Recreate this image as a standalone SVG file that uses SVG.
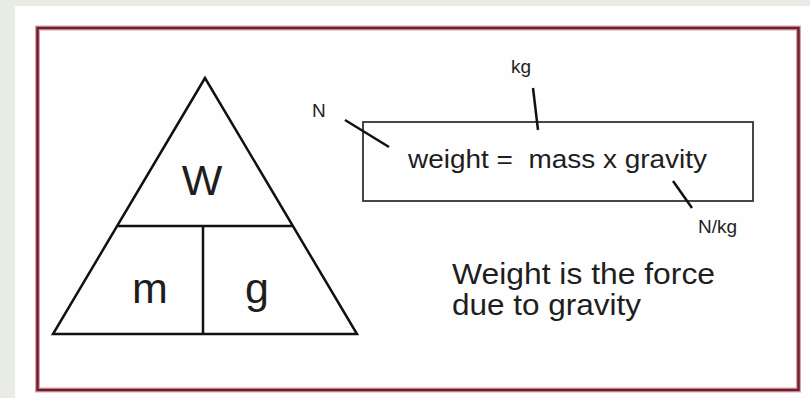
<svg xmlns="http://www.w3.org/2000/svg" width="810" height="398" viewBox="0 0 810 398">
<style>
.t{font-family:"Liberation Sans",Arial,sans-serif;fill:#1e1e1e}
.ln{stroke:#111;fill:none;stroke-linecap:butt}
</style>
<rect x="0" y="0" width="810" height="398" fill="#e8ece5"/>
<rect x="15" y="6" width="795" height="392" fill="#fefefe"/>
<rect x="37.5" y="28" width="761" height="362" fill="none" stroke="#d9a3ab" stroke-width="5"/>
<rect x="37.5" y="28" width="761" height="362" fill="none" stroke="#6f1f2c" stroke-width="2.5"/>
<g id="triangle">
<polygon class="ln" points="205,78 53,334 357,334" stroke-width="2.5" stroke-linejoin="miter"/>
<line class="ln" x1="118" y1="226" x2="292" y2="226" stroke-width="2.5"/>
<line class="ln" x1="203" y1="226" x2="203" y2="334" stroke-width="2.5"/>
<text class="t" x="202" y="195" font-size="43" text-anchor="middle">W</text>
<text class="t" x="150" y="303" font-size="43" text-anchor="middle">m</text>
<text class="t" x="257" y="303" font-size="43" text-anchor="middle">g</text>
</g>
<g id="equation">
<rect x="363" y="122" width="390" height="79" fill="none" stroke="#333" stroke-width="1.8"/>
<text class="t" x="408" y="168" font-size="26" textLength="299" lengthAdjust="spacingAndGlyphs">weight =&#160; mass x gravity</text>
</g>
<g id="label-N"><text class="t" x="312" y="117" font-size="19">N</text></g>
<g id="label-kg"><text class="t" x="511" y="73" font-size="19">kg</text></g>
<g id="label-Nkg"><text class="t" x="698" y="233" font-size="19">N/kg</text></g>
<g id="connectors">
<line class="ln" x1="345" y1="120" x2="389" y2="147" stroke-width="2.5"/>
<line class="ln" x1="533" y1="88" x2="538" y2="130" stroke-width="2.5"/>
<line class="ln" x1="673" y1="181" x2="692" y2="208" stroke-width="2.5"/>
</g>
<g id="note">
<text class="t" x="452" y="284" font-size="29" textLength="263" lengthAdjust="spacingAndGlyphs">Weight is the force</text>
<text class="t" x="452" y="315" font-size="29" textLength="189" lengthAdjust="spacingAndGlyphs">due to gravity</text>
</g>
</svg>
